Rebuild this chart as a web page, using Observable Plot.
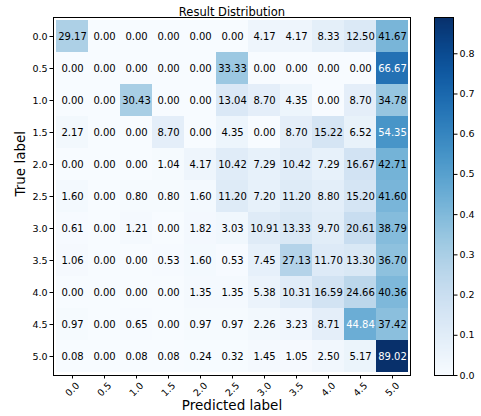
<!DOCTYPE html>
<html><head><meta charset="utf-8">
<script src="https://cdn.jsdelivr.net/npm/d3@7"></script>
<script src="https://cdn.jsdelivr.net/npm/@observablehq/plot@0.6"></script>
<style>
body{margin:0;background:#fff;}
#wrap{position:relative;width:481px;height:416px;font-family:"DejaVu Sans",sans-serif;}
#wrap svg{position:absolute;top:0;font-family:"DejaVu Sans",sans-serif;background:transparent;}
</style></head><body><div id="wrap"></div>
<script>
const labels = ["0.0","0.5","1.0","1.5","2.0","2.5","3.0","3.5","4.0","4.5","5.0"];
const row_0_0 = [29.17,0.00,0.00,0.00,0.00,0.00,4.17,4.17,8.33,12.50,41.67];
const row_0_5 = [0.00,0.00,0.00,0.00,0.00,33.33,0.00,0.00,0.00,0.00,66.67];
const row_1_0 = [0.00,0.00,30.43,0.00,0.00,13.04,8.70,4.35,0.00,8.70,34.78];
const row_1_5 = [2.17,0.00,0.00,8.70,0.00,4.35,0.00,8.70,15.22,6.52,54.35];
const row_2_0 = [0.00,0.00,0.00,1.04,4.17,10.42,7.29,10.42,7.29,16.67,42.71];
const row_2_5 = [1.60,0.00,0.80,0.80,1.60,11.20,7.20,11.20,8.80,15.20,41.60];
const row_3_0 = [0.61,0.00,1.21,0.00,1.82,3.03,10.91,13.33,9.70,20.61,38.79];
const row_3_5 = [1.06,0.00,0.00,0.53,1.60,0.53,7.45,27.13,11.70,13.30,36.70];
const row_4_0 = [0.00,0.00,0.00,0.00,1.35,1.35,5.38,10.31,16.59,24.66,40.36];
const row_4_5 = [0.97,0.00,0.65,0.00,0.97,0.97,2.26,3.23,8.71,44.84,37.42];
const row_5_0 = [0.08,0.00,0.08,0.08,0.24,0.32,1.45,1.05,2.50,5.17,89.02];
const rows = [row_0_0,row_0_5,row_1_0,row_1_5,row_2_0,row_2_5,row_3_0,row_3_5,row_4_0,row_4_5,row_5_0];
const titleText = "Result Distribution";
const xLabelText = "Predicted label";
const yLabelText = "True label";
const colorTicks = [0,0.1,0.2,0.3,0.4,0.5,0.6,0.7,0.8];

const cells = rows.flatMap((r,i)=>r.map((v,j)=>({t:labels[i], p:labels[j], v:v/100, s:v.toFixed(2)})));
const colorMax = d3.max(cells, d=>d.v);
const thresh = colorMax/2;

const heat = Plot.plot({
  width:420, height:416,
  marginLeft:53, marginRight:10, marginTop:17, marginBottom:41,
  style:{fontFamily:"DejaVu Sans, sans-serif", background:"transparent"},
  x:{type:"band", domain:labels, padding:0, label:null},
  y:{type:"band", domain:labels, padding:0, label:null},
  color:{type:"linear", scheme:"blues", domain:[0,colorMax]},
  marks:[
    Plot.cell(cells, {x:"p", y:"t", fill:"v", inset:0, shapeRendering:"crispEdges"}),
    Plot.text(cells, {x:"p", y:"t", text:"s", fontSize:10, fill:d=>d.v>thresh?"white":"black"}),
    Plot.frame({stroke:"black", strokeWidth:1}),
    Plot.axisY({tickSize:3.5, tickPadding:2.5, fontSize:9.5, label:null}),
    Plot.axisX({tickSize:3.5, tickPadding:10.5, tickRotate:-45, textAnchor:"middle", fontSize:9.5, label:null}),
    Plot.text([titleText], {frameAnchor:"top", text:d=>d, dy:-9.5, fontSize:11.5}),
    Plot.text([xLabelText], {frameAnchor:"bottom", text:d=>d, dy:34.5, fontSize:13.5}),
    Plot.text([yLabelText], {frameAnchor:"left", text:d=>d, dx:-33, rotate:-90, fontSize:13.5})
  ]
});
heat.style.left = "0px";

const nb = 300;
const step = colorMax/nb;
const bands = d3.range(nb).map(i=>i*step);
const bar = Plot.plot({
  width:61, height:416,
  marginLeft:14, marginRight:28, marginTop:17, marginBottom:41,
  style:{fontFamily:"DejaVu Sans, sans-serif", background:"transparent"},
  x:{domain:[0,1], axis:null},
  y:{domain:[0,colorMax], label:null, axis:null},
  color:{type:"linear", scheme:"blues", domain:[0,colorMax]},
  marks:[
    Plot.rect(bands, {x1:0, x2:1, y1:d=>d, y2:d=>Math.min(d+step*1.6, colorMax), fill:d=>d+step/2, shapeRendering:"crispEdges"}),
    Plot.frame({stroke:"black", strokeWidth:1}),
    Plot.axisY(colorTicks, {anchor:"right", tickFormat:d3.format(".1f"), tickSize:3.5, tickPadding:2.5, fontSize:9.5, label:null})
  ]
});
bar.style.left = "420px";

const wrap = document.getElementById("wrap");
wrap.appendChild(heat);
wrap.appendChild(bar);
</script></body></html>
